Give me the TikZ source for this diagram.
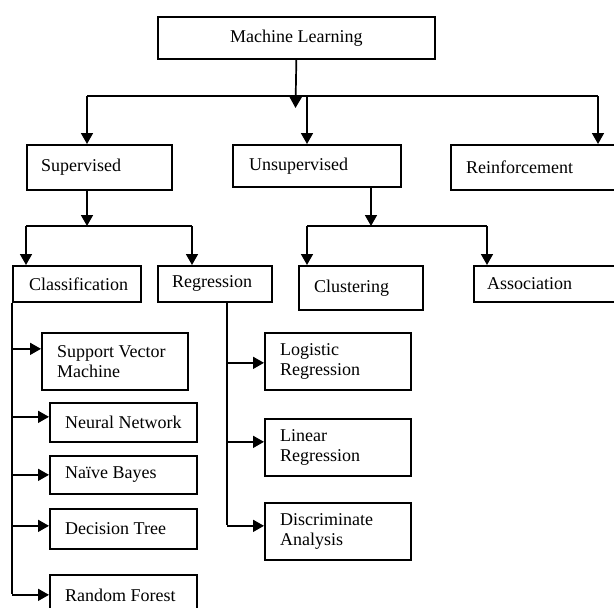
\documentclass[tikz,border=0pt]{standalone}
\usepackage{fontspec}
\setmainfont{Liberation Serif}
\usetikzlibrary{arrows.meta}
\newcommand\dfont{\fontsize{18}{20}\selectfont}
\tikzset{
  box/.style={draw, line width=1.7pt, anchor=north west, inner sep=0pt},
  lbl/.style={anchor=west, inner sep=0pt, font=\dfont, align=left},
  ln/.style={line width=1.7pt},
  arr/.style={line width=1.7pt, -{Triangle[length=11pt,width=12pt]}}
}
\begin{document}
\begin{tikzpicture}[x=1pt,y=-1pt]
\path[use as bounding box, clip] (0,0) rectangle (614,608);
\fill[white] (0,0) rectangle (614,608);
% boxes
\node[box, minimum width=277pt, minimum height=42pt] (ml) at (157,16) {};
\node[font=\dfont] at (ml.center) {Machine Learning};
\node[box, minimum width=145pt, minimum height=45pt] (sup) at (26,144) {};
\node[box, minimum width=168pt, minimum height=42pt] (uns) at (232,144) {};
\node[box, minimum width=190pt, minimum height=45pt] (rei) at (450,144) {};
\node[box, minimum width=128pt, minimum height=36pt] (cla) at (12,265) {};
\node[box, minimum width=114pt, minimum height=36pt] (reg) at (157,265) {};
\node[box, minimum width=124pt, minimum height=44pt] (clu) at (298,265) {};
\node[box, minimum width=170pt, minimum height=36pt] (ass) at (473,265) {};
\node[box, minimum width=146pt, minimum height=57pt] (svm) at (41,332) {};
\node[box, minimum width=147pt, minimum height=39pt] (nn) at (49,402) {};
\node[box, minimum width=147pt, minimum height=38pt] (nb) at (49,455) {};
\node[box, minimum width=147pt, minimum height=40pt] (dt) at (49,508) {};
\node[box, minimum width=147pt, minimum height=40pt] (rf) at (49,574) {};
\node[box, minimum width=146pt, minimum height=57pt] (lg) at (264,332) {};
\node[box, minimum width=146pt, minimum height=57pt] (lin) at (264,418) {};
\node[box, minimum width=146pt, minimum height=57pt] (dis) at (264,502) {};
% labels
\node[lbl] at ([xshift=15pt]sup.west) {Supervised};
\node[lbl] at ([xshift=17pt]uns.west) {Unsupervised};
\node[lbl] at ([xshift=16pt]rei.west) {Reinforcement};
\node[lbl] at ([xshift=17pt]cla.west) {Classification};
\node[lbl] at ([xshift=15pt]reg.west) {Regression};
\node[lbl] at ([xshift=16pt]clu.west) {Clustering};
\node[lbl] at ([xshift=14pt]ass.west) {Association};
\node[lbl] at ([xshift=16pt]svm.west) {Support Vector\\Machine};
\node[lbl] at ([xshift=16pt]nn.west) {Neural Network};
\node[lbl] at ([xshift=16pt]nb.west) {Naïve Bayes};
\node[lbl] at ([xshift=16pt]dt.west) {Decision Tree};
\node[lbl] at ([xshift=16pt]rf.west) {Random Forest};
\node[lbl] at ([xshift=16pt]lg.west) {Logistic\\Regression};
\node[lbl] at ([xshift=16pt]lin.west) {Linear\\Regression};
\node[lbl] at ([xshift=16pt]dis.west) {Discriminate\\Analysis};
% top level connectors
\coordinate (mlend) at (295.5,108);
\coordinate (b1) at (87,96);
\coordinate (b2) at (307,96);
\coordinate (b3) at (598,96);
\draw[ln] (b1) -- (b3);
\draw[arr] (ml.south) -- (mlend);
\draw[arr] (b1) -- (b1 |- sup.north);
\draw[arr] (b2) -- (b2 |- uns.north);
\draw[arr] (b3) -- (b3 |- rei.north);
% supervised
\coordinate (s0) at (87,226);
\coordinate (s1) at (26,226);
\coordinate (s2) at (192,226);
\draw[arr] (s0 |- sup.south) -- (s0);
\draw[ln] (s1) -- (s2);
\draw[arr] (s1) -- (s1 |- cla.north);
\draw[arr] (s2) -- (s2 |- reg.north);
% unsupervised
\coordinate (u0) at (371,226);
\coordinate (u1) at (307,226);
\coordinate (u2) at (487,226);
\draw[arr] (u0 |- uns.south) -- (u0);
\draw[ln] (u1) -- (u2);
\draw[arr] (u1) -- (u1 |- clu.north);
\draw[arr] (u2) -- (u2 |- ass.north);
% classification branch
\coordinate (cv) at (12,594);
\draw[ln] (cla.south west) -- (cv);
\coordinate (svmin) at ([yshift=12.5pt]svm.west);
\coordinate (nnin) at ([yshift=5.5pt]nn.west);
\coordinate (nbin) at (nb.west);
\coordinate (dtin) at ([yshift=3pt]dt.west);
\coordinate (rfin) at (rf.west);
\draw[arr] (svmin -| cv) -- (svmin);
\draw[arr] (nnin -| cv) -- (nnin);
\draw[arr] (nbin -| cv) -- (nbin);
\draw[arr] (dtin -| cv) -- (dtin);
\draw[arr] (rfin -| cv) -- (rfin);
% regression branch
\coordinate (rv) at (227,525);
\draw[ln] (rv |- reg.south) -- (rv);
\coordinate (lgin) at ([yshift=-1.5pt]lg.west);
\coordinate (linin) at ([yshift=5.5pt]lin.west);
\coordinate (disin) at ([yshift=5.5pt]dis.west);
\draw[arr] (lgin -| rv) -- (lgin);
\draw[arr] (linin -| rv) -- (linin);
\draw[arr] (disin -| rv) -- (disin);
\end{tikzpicture}
\end{document}
